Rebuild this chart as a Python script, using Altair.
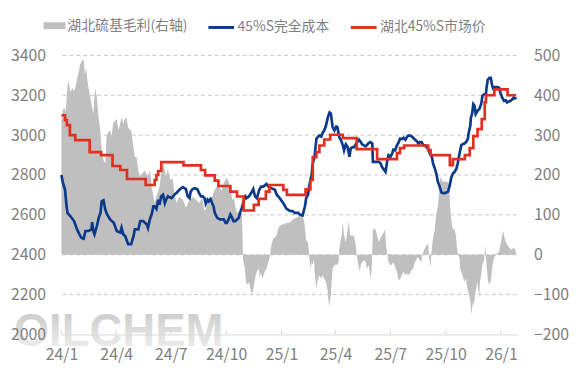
import altair as alt
import pandas as pd

margin_name = "湖北硫基毛利(右轴)"
cost_name = "45%S完全成本"
price_name = "湖北45%S市场价"

# 湖北硫基毛利 (right axis)
margin_points = [
    ("2024-01-01", 336), ("2024-01-03", 361), ("2024-01-06", 370), ("2024-01-08", 357), ("2024-01-10", 398),
    ("2024-01-12", 436), ("2024-01-14", 427), ("2024-01-16", 407), ("2024-01-19", 419), ("2024-01-22", 411),
    ("2024-01-24", 419), ("2024-01-27", 440), ("2024-01-30", 461), ("2024-02-01", 477), ("2024-02-04", 486),
    ("2024-02-07", 490), ("2024-02-09", 452), ("2024-02-11", 469), ("2024-02-13", 440), ("2024-02-15", 419),
    ("2024-02-18", 394), ("2024-02-21", 370), ("2024-02-23", 353), ("2024-02-26", 419), ("2024-02-29", 394),
    ("2024-03-03", 340), ("2024-03-05", 320), ("2024-03-08", 262), ("2024-03-11", 237), ("2024-03-14", 229),
    ("2024-03-16", 295), ("2024-03-19", 307), ("2024-03-22", 312), ("2024-03-24", 295), ("2024-03-27", 328),
    ("2024-03-30", 336), ("2024-04-02", 340), ("2024-04-05", 312), ("2024-04-07", 324), ("2024-04-10", 345),
    ("2024-04-13", 328), ("2024-04-15", 340), ("2024-04-18", 345), ("2024-04-21", 320), ("2024-04-24", 312),
    ("2024-04-26", 312), ("2024-04-29", 278), ("2024-05-02", 245), ("2024-05-05", 245), ("2024-05-07", 220),
    ("2024-05-10", 196), ("2024-05-13", 200), ("2024-05-18", 212), ("2024-05-21", 204), ("2024-05-24", 196),
    ("2024-05-27", 212), ("2024-05-28", 204), ("2024-05-30", 171), ("2024-06-01", 154), ("2024-06-04", 129),
    ("2024-06-07", 146), ("2024-06-09", 154), ("2024-06-12", 171), ("2024-06-15", 204), ("2024-06-18", 229),
    ("2024-06-20", 220), ("2024-06-23", 196), ("2024-06-26", 215), ("2024-06-29", 195), ("2024-07-01", 187),
    ("2024-07-04", 192), ("2024-07-07", 155), ("2024-07-10", 130), ("2024-07-15", 145), ("2024-07-21", 138),
    ("2024-07-26", 118), ("2024-08-01", 138), ("2024-08-06", 145), ("2024-08-12", 138), ("2024-08-17", 130),
    ("2024-08-22", 143), ("2024-08-26", 110), ("2024-08-28", 115), ("2024-09-03", 143), ("2024-09-08", 145),
    ("2024-09-11", 160), ("2024-09-15", 170), ("2024-09-19", 175), ("2024-09-23", 160), ("2024-09-27", 180),
    ("2024-10-01", 192), ("2024-10-04", 190), ("2024-10-08", 167), ("2024-10-11", 138), ("2024-10-14", 140),
    ("2024-10-17", 115), ("2024-10-19", 105), ("2024-10-22", 108), ("2024-10-25", 100), ("2024-10-27", 105),
    ("2024-10-28", 60), ("2024-10-29", -15), ("2024-10-30", -18), ("2024-11-01", -35), ("2024-11-03", -68),
    ("2024-11-06", -76), ("2024-11-08", -68), ("2024-11-10", -84), ("2024-11-13", -101), ("2024-11-15", -85),
    ("2024-11-17", -68), ("2024-11-19", -52), ("2024-11-21", -43), ("2024-11-24", -35), ("2024-11-26", -60),
    ("2024-11-28", -43), ("2024-11-30", -60), ("2024-12-02", -52), ("2024-12-04", -43), ("2024-12-07", -35),
    ("2024-12-10", -18), ("2024-12-13", -2), ("2024-12-15", 23), ("2024-12-18", 40), ("2024-12-21", 44),
    ("2024-12-24", 48), ("2024-12-26", 64), ("2024-12-29", 73), ("2025-01-04", 77), ("2025-01-09", 79),
    ("2025-01-15", 81), ("2025-01-20", 89), ("2025-01-26", 93), ("2025-01-31", 98), ("2025-02-05", 98),
    ("2025-02-08", 81), ("2025-02-11", 36), ("2025-02-14", 31), ("2025-02-15", 15), ("2025-02-17", -18),
    ("2025-02-19", -35), ("2025-02-20", -18), ("2025-02-22", -26), ("2025-02-24", -10), ("2025-02-25", -43),
    ("2025-02-28", -84), ("2025-03-02", -68), ("2025-03-05", -51), ("2025-03-08", -60), ("2025-03-10", -51),
    ("2025-03-13", -60), ("2025-03-16", -68), ("2025-03-19", -93), ("2025-03-21", -130), ("2025-03-24", -101),
    ("2025-03-27", -35), ("2025-03-30", -26), ("2025-04-01", -25), ("2025-04-04", -25), ("2025-04-06", -18),
    ("2025-04-07", 15), ("2025-04-08", 23), ("2025-04-11", 48), ("2025-04-13", 81), ("2025-04-15", 48),
    ("2025-04-18", 31), ("2025-04-20", 52), ("2025-04-23", 85), ("2025-04-25", 48), ("2025-04-28", 48),
    ("2025-05-01", 48), ("2025-05-04", 31), ("2025-05-06", 0), ("2025-05-09", -26), ("2025-05-11", -43),
    ("2025-05-13", -26), ("2025-05-15", -18), ("2025-05-18", -14), ("2025-05-21", -18), ("2025-05-23", -35),
    ("2025-05-26", -26), ("2025-05-29", -60), ("2025-05-31", -35), ("2025-06-02", 64), ("2025-06-06", 64),
    ("2025-06-09", 48), ("2025-06-12", 31), ("2025-06-14", 40), ("2025-06-17", 48), ("2025-06-20", 56),
    ("2025-06-22", 64), ("2025-06-24", 23), ("2025-06-26", -2), ("2025-06-28", -18), ("2025-07-01", -26),
    ("2025-07-03", -26), ("2025-07-06", -18), ("2025-07-09", -31), ("2025-07-12", -43), ("2025-07-14", -60),
    ("2025-07-17", -64), ("2025-07-20", -51), ("2025-07-23", -43), ("2025-07-25", -51), ("2025-07-28", -47),
    ("2025-07-31", -51), ("2025-08-03", -47), ("2025-08-05", -39), ("2025-08-08", -35), ("2025-08-11", -18),
    ("2025-08-14", -10), ("2025-08-16", -6), ("2025-08-19", -14), ("2025-08-22", -18), ("2025-08-23", -2),
    ("2025-08-25", 7), ("2025-08-27", 15), ("2025-08-30", 23), ("2025-09-02", 27), ("2025-09-03", -2),
    ("2025-09-06", -31), ("2025-09-07", -2), ("2025-09-09", 31), ("2025-09-10", 40), ("2025-09-13", 64),
    ("2025-09-15", 98), ("2025-09-18", 122), ("2025-09-20", 155), ("2025-09-21", 184), ("2025-09-22", 197),
    ("2025-09-24", 184), ("2025-09-25", 197), ("2025-09-26", 184), ("2025-10-02", 184), ("2025-10-06", 180),
    ("2025-10-07", 164), ("2025-10-09", 106), ("2025-10-11", 81), ("2025-10-13", 64), ("2025-10-16", 64),
    ("2025-10-18", 48), ("2025-10-20", 15), ("2025-10-22", 0), ("2025-10-24", -10), ("2025-10-25", -35),
    ("2025-10-27", -43), ("2025-10-29", -51), ("2025-11-01", -68), ("2025-11-04", -60), ("2025-11-06", -84),
    ("2025-11-09", -101), ("2025-11-11", -117), ("2025-11-13", -150), ("2025-11-14", -134), ("2025-11-16", -117),
    ("2025-11-17", -126), ("2025-11-19", -101), ("2025-11-21", -84), ("2025-11-23", -68), ("2025-11-26", -109),
    ("2025-11-27", -68), ("2025-11-29", -51), ("2025-12-01", -26), ("2025-12-03", -18), ("2025-12-04", -10),
    ("2025-12-06", 23), ("2025-12-07", -2), ("2025-12-08", -26), ("2025-12-10", -60), ("2025-12-12", -76),
    ("2025-12-14", -68), ("2025-12-15", -68), ("2025-12-18", -26), ("2025-12-19", -18), ("2025-12-21", -6),
    ("2025-12-23", -2), ("2025-12-25", 2), ("2025-12-26", 5), ("2025-12-29", 7), ("2025-12-30", 19),
    ("2026-01-01", 31), ("2026-01-03", 48), ("2026-01-05", 60), ("2026-01-06", 48), ("2026-01-09", 31),
    ("2026-01-11", 27), ("2026-01-14", 19), ("2026-01-17", 15), ("2026-01-19", 11), ("2026-01-22", 19),
    ("2026-01-25", 11), ("2026-01-26", 7),
]

# 45%S完全成本 (left axis)
cost_points = [
    ("2024-01-01", 2800), ("2024-01-03", 2767), ("2024-01-07", 2726), ("2024-01-09", 2659), ("2024-01-11", 2610),
    ("2024-01-16", 2593), ("2024-01-22", 2569), ("2024-01-27", 2527), ("2024-01-31", 2502), ("2024-02-03", 2486),
    ("2024-02-07", 2481), ("2024-02-10", 2519), ("2024-02-15", 2519), ("2024-02-20", 2527), ("2024-02-21", 2564),
    ("2024-02-23", 2519), ("2024-02-25", 2502), ("2024-02-29", 2544), ("2024-03-03", 2585), ("2024-03-06", 2610),
    ("2024-03-08", 2668), ("2024-03-11", 2673), ("2024-03-14", 2626), ("2024-03-17", 2602), ("2024-03-22", 2577),
    ("2024-03-28", 2560), ("2024-04-02", 2519), ("2024-04-08", 2511), ("2024-04-10", 2535), ("2024-04-13", 2502),
    ("2024-04-16", 2494), ("2024-04-19", 2469), ("2024-04-21", 2453), ("2024-04-26", 2453), ("2024-04-30", 2494),
    ("2024-05-02", 2527), ("2024-05-08", 2527), ("2024-05-11", 2569), ("2024-05-16", 2569), ("2024-05-22", 2552),
    ("2024-05-24", 2535), ("2024-05-27", 2577), ("2024-05-30", 2602), ("2024-06-02", 2643), ("2024-06-04", 2643),
    ("2024-06-07", 2630), ("2024-06-10", 2676), ("2024-06-12", 2651), ("2024-06-15", 2693), ("2024-06-18", 2701),
    ("2024-06-21", 2659), ("2024-06-23", 2676), ("2024-06-26", 2693), ("2024-07-02", 2684), ("2024-07-04", 2690),
    ("2024-07-08", 2705), ("2024-07-10", 2709), ("2024-07-15", 2726), ("2024-07-21", 2739), ("2024-07-26", 2729),
    ("2024-07-29", 2693), ("2024-08-01", 2684), ("2024-08-03", 2717), ("2024-08-06", 2729), ("2024-08-09", 2734),
    ("2024-08-14", 2729), ("2024-08-17", 2709), ("2024-08-20", 2693), ("2024-08-23", 2693), ("2024-08-26", 2684),
    ("2024-08-28", 2656), ("2024-08-31", 2676), ("2024-09-02", 2668), ("2024-09-05", 2679), ("2024-09-08", 2656),
    ("2024-09-10", 2643), ("2024-09-12", 2610), ("2024-09-16", 2585), ("2024-09-21", 2577), ("2024-09-27", 2577),
    ("2024-09-30", 2560), ("2024-10-02", 2560), ("2024-10-05", 2577), ("2024-10-08", 2602), ("2024-10-11", 2585),
    ("2024-10-13", 2569), ("2024-10-16", 2569), ("2024-10-19", 2577), ("2024-10-22", 2585), ("2024-10-24", 2610),
    ("2024-10-27", 2635), ("2024-10-30", 2668), ("2024-11-02", 2693), ("2024-11-04", 2684), ("2024-11-08", 2693),
    ("2024-11-13", 2717), ("2024-11-15", 2729), ("2024-11-18", 2693), ("2024-11-21", 2684), ("2024-11-25", 2726),
    ("2024-11-28", 2742), ("2024-12-02", 2742), ("2024-12-07", 2755), ("2024-12-10", 2742), ("2024-12-15", 2734),
    ("2024-12-21", 2726), ("2024-12-24", 2701), ("2024-12-29", 2684), ("2025-01-04", 2659), ("2025-01-09", 2632),
    ("2025-01-15", 2620), ("2025-01-20", 2618), ("2025-01-23", 2610), ("2025-01-29", 2610), ("2025-01-31", 2602),
    ("2025-02-05", 2597), ("2025-02-09", 2643), ("2025-02-11", 2684), ("2025-02-14", 2701), ("2025-02-17", 2759),
    ("2025-02-20", 2800), ("2025-02-22", 2858), ("2025-02-25", 2891), ("2025-02-28", 2982), ("2025-03-03", 2993),
    ("2025-03-05", 2998), ("2025-03-08", 2993), ("2025-03-11", 3015), ("2025-03-13", 3023), ("2025-03-16", 3048),
    ("2025-03-19", 3089), ("2025-03-22", 3114), ("2025-03-24", 3109), ("2025-03-27", 3040), ("2025-03-30", 3023),
    ("2025-04-02", 3043), ("2025-04-04", 3040), ("2025-04-07", 2990), ("2025-04-10", 2974), ("2025-04-13", 2949),
    ("2025-04-15", 2924), ("2025-04-18", 2954), ("2025-04-21", 2940), ("2025-04-24", 2891), ("2025-04-26", 2932),
    ("2025-04-29", 2940), ("2025-05-02", 2940), ("2025-05-05", 2957), ("2025-05-07", 2965), ("2025-05-10", 2977),
    ("2025-05-13", 2965), ("2025-05-15", 2954), ("2025-05-18", 2949), ("2025-05-21", 2944), ("2025-05-24", 2954),
    ("2025-05-26", 2960), ("2025-05-29", 2965), ("2025-06-01", 2957), ("2025-06-02", 2866), ("2025-06-06", 2866),
    ("2025-06-12", 2866), ("2025-06-15", 2858), ("2025-06-17", 2841), ("2025-06-20", 2828), ("2025-06-23", 2816),
    ("2025-06-26", 2874), ("2025-06-28", 2899), ("2025-07-01", 2891), ("2025-07-04", 2907), ("2025-07-06", 2927),
    ("2025-07-09", 2924), ("2025-07-12", 2949), ("2025-07-15", 2965), ("2025-07-17", 2982), ("2025-07-20", 2980),
    ("2025-07-23", 2987), ("2025-07-26", 2977), ("2025-07-29", 2993), ("2025-07-31", 2998), ("2025-08-03", 2998),
    ("2025-08-06", 2993), ("2025-08-08", 2987), ("2025-08-11", 2977), ("2025-08-14", 2970), ("2025-08-17", 2957),
    ("2025-08-19", 2965), ("2025-08-22", 2965), ("2025-08-25", 2949), ("2025-08-28", 2949), ("2025-08-30", 2940),
    ("2025-09-02", 2932), ("2025-09-05", 2907), ("2025-09-08", 2891), ("2025-09-10", 2858), ("2025-09-13", 2833),
    ("2025-09-16", 2800), ("2025-09-18", 2767), ("2025-09-21", 2742), ("2025-09-24", 2712), ("2025-09-27", 2709),
    ("2025-09-29", 2709), ("2025-10-02", 2712), ("2025-10-05", 2717), ("2025-10-08", 2750), ("2025-10-10", 2783),
    ("2025-10-13", 2808), ("2025-10-16", 2816), ("2025-10-19", 2833), ("2025-10-21", 2858), ("2025-10-24", 2907),
    ("2025-10-27", 2949), ("2025-10-30", 2957), ("2025-11-01", 2957), ("2025-11-04", 2965), ("2025-11-07", 2982),
    ("2025-11-08", 3007), ("2025-11-11", 3048), ("2025-11-12", 3089), ("2025-11-14", 3106), ("2025-11-16", 3155),
    ("2025-11-18", 3147), ("2025-11-20", 3106), ("2025-11-23", 3122), ("2025-11-26", 3131), ("2025-11-29", 3155),
    ("2025-11-30", 3172), ("2025-12-01", 3197), ("2025-12-04", 3205), ("2025-12-07", 3205), ("2025-12-08", 3238),
    ("2025-12-10", 3279), ("2025-12-13", 3288), ("2025-12-15", 3288), ("2025-12-17", 3255), ("2025-12-19", 3235),
    ("2025-12-22", 3241), ("2025-12-26", 3241), ("2025-12-29", 3238), ("2025-12-31", 3213), ("2026-01-03", 3188),
    ("2026-01-06", 3172), ("2026-01-09", 3175), ("2026-01-11", 3164), ("2026-01-14", 3169), ("2026-01-17", 3172),
    ("2026-01-20", 3180), ("2026-01-22", 3188), ("2026-01-25", 3185), ("2026-01-26", 3180),
]

# 湖北45%S市场价 (left axis, stepwise quotes)
price_points = [
    ("2024-01-01", 3100), ("2024-01-07", 3075), ("2024-01-10", 3050), ("2024-01-15", 3000), ("2024-01-24", 2975),
    ("2024-02-17", 2915), ("2024-03-07", 2900), ("2024-03-26", 2845), ("2024-04-08", 2825), ("2024-04-19", 2780),
    ("2024-05-20", 2750), ("2024-06-04", 2775), ("2024-06-07", 2800), ("2024-06-10", 2820), ("2024-06-15", 2865),
    ("2024-07-22", 2848), ("2024-08-20", 2825), ("2024-08-27", 2798), ("2024-09-12", 2772), ("2024-09-18", 2745),
    ("2024-10-08", 2717), ("2024-10-19", 2692), ("2024-10-30", 2622), ("2024-11-16", 2650), ("2024-11-24", 2680),
    ("2024-12-06", 2717), ("2024-12-12", 2750), ("2025-01-04", 2725), ("2025-01-10", 2700), ("2025-02-10", 2728),
    ("2025-02-18", 2775), ("2025-02-22", 2890), ("2025-02-28", 2915), ("2025-03-05", 2948), ("2025-03-13", 2978),
    ("2025-03-23", 3002), ("2025-04-13", 2985), ("2025-05-06", 2930), ("2025-06-09", 2880), ("2025-07-12", 2910),
    ("2025-07-17", 2935), ("2025-07-24", 2948), ("2025-09-02", 2925), ("2025-09-06", 2900), ("2025-10-08", 2850),
    ("2025-10-13", 2880), ("2025-11-02", 2900), ("2025-11-10", 2935), ("2025-11-16", 2995), ("2025-11-23", 3030),
    ("2025-11-30", 3080), ("2025-12-05", 3165), ("2025-12-07", 3200), ("2025-12-21", 3230), ("2026-01-12", 3200),
    ("2026-01-26", 3200),
]

x_ticks = [(2024, 1), (2024, 4), (2024, 7), (2024, 10), (2025, 1), (2025, 4), (2025, 7), (2025, 10), (2026, 1)]
left_ticks = [2000, 2200, 2400, 2600, 2800, 3000, 3200, 3400]
right_ticks = [-200, -100, 0, 100, 200, 300, 400, 500]
grid_levels = [-100, 0, 100, 200, 300, 400, 500]

FONT = "Noto Sans CJK SC"
LABEL = "#7f7f7f"
GRAY = "#bfbfbf"
BLUE = "#0b3a8a"
RED = "#e0301f"


def frame(points, name):
    df = pd.DataFrame(points, columns=["date", "value"])
    df["date"] = pd.to_datetime(df["date"])
    df["series"] = name
    return df


margin_df = frame(margin_points, margin_name)
cost_df = frame(cost_points, cost_name)
price_df = frame(price_points, price_name)
tick_df = pd.DataFrame({"date": pd.to_datetime([f"{y}-{m:02d}-01" for y, m in x_ticks])})
grid_df = pd.DataFrame({"value": grid_levels})

x_enc = alt.X(
    "date:T",
    scale=alt.Scale(domain=[alt.DateTime(year=2024, month=1, date=1),
                            alt.DateTime(year=2026, month=1, date=27)]),
    axis=alt.Axis(
        values=[alt.DateTime(year=y, month=m, date=1) for y, m in x_ticks],
        format="%y/%-m", title=None, ticks=False, grid=False, zindex=1,
        domainColor="#d9d9d9", domainWidth=1, labelFlush=False, labelOverlap=False,
        labelPadding=12, labelFont=FONT, labelFontSize=16, labelColor=LABEL,
    ),
)

right_y = alt.Y("value:Q", stack=None,
                scale=alt.Scale(domain=[-200, 500], nice=False),
                axis=alt.Axis(orient="right", values=right_ticks, format="d", title=None, grid=False,
                              ticks=False, domain=False, labelPadding=17, labelFont=FONT,
                              labelFontSize=16, labelColor=LABEL, zindex=1))

# dashed horizontal grid (the two axes share the same gridlines)
grid = alt.Chart(grid_df).mark_rule(color="#c8c8c8", strokeWidth=1, strokeDash=[4, 3]).encode(
    y=right_y)

area = alt.Chart(margin_df).mark_area(color=GRAY, opacity=1, interpolate="linear").encode(
    x=x_enc,
    y=right_y,
    color=alt.Color("series:N",
                    scale=alt.Scale(domain=[margin_name], range=[GRAY]),
                    legend=alt.Legend(orient="none", legendX=-18, legendY=-41, title=None,
                                      symbolType="M-1,-0.32H1V0.32H-1Z", symbolSize=484,
                                      symbolStrokeWidth=0, symbolOpacity=1, labelOffset=2,
                                      labelFont=FONT, labelFontSize=14, labelColor=LABEL,
                                      padding=0)),
)

left_y = alt.Y("value:Q",
               scale=alt.Scale(domain=[2000, 3400], nice=False, zero=False),
               axis=alt.Axis(orient="left", values=left_ticks, format="d", title=None, ticks=False,
                             domain=False, grid=False, zindex=1, labelPadding=16, labelFont=FONT,
                             labelFontSize=16, labelColor=LABEL))

line_color = alt.Color("series:N",
                       scale=alt.Scale(domain=[cost_name, price_name], range=[BLUE, RED]),
                       legend=alt.Legend(orient="none", legendX=147, legendY=-43, title=None,
                                         direction="horizontal", symbolType="stroke",
                                         symbolSize=676, symbolStrokeWidth=3, labelOffset=2,
                                         columnPadding=15, labelFont=FONT, labelFontSize=14,
                                         labelColor=LABEL, padding=0))

watermark = alt.Chart(pd.DataFrame({"label": ["OILCHEM"]})).mark_text(
    font="Liberation Sans", fontWeight="bold", fontSize=46, align="center",
    baseline="alphabetic",
    color=alt.LinearGradient(gradient="linear",
                             stops=[alt.GradientStop(color="#c6c6c6", offset=0),
                                    alt.GradientStop(color="#f3f3f3", offset=1)],
                             x1=0, x2=0, y1=0, y2=1),
).encode(
    x=alt.datum(alt.DateTime(year=2024, month=4, date=5)),
    y=alt.datum(1941),
    text="label:N",
)

axis_ticks = alt.Chart(tick_df).mark_rule(color="#d9d9d9", strokeWidth=1).encode(
    x=x_enc,
    y=alt.datum(2000),
    y2=alt.datum(2025),
)

cost_line = alt.Chart(cost_df).mark_line(strokeWidth=2.7, interpolate="linear").encode(
    x=x_enc, y=left_y, color=line_color)

price_line = alt.Chart(price_df).mark_line(strokeWidth=2.7, interpolate="step-after").encode(
    x=x_enc, y=left_y, color=line_color)

bars_group = alt.layer(grid, area)
lines_group = alt.layer(watermark, axis_ticks, cost_line, price_line)

chart = alt.layer(bars_group, lines_group).resolve_scale(y="independent", color="independent").properties(
    width=460, height=282,
    autosize=alt.AutoSizeParams(type="none"),
    padding={"left": 54, "top": 46, "right": 58, "bottom": 34},
).configure_view(stroke=None).configure_axis(labelFontWeight="normal")

chart.save("out.html", embed_options={"renderer": "svg", "actions": False})
